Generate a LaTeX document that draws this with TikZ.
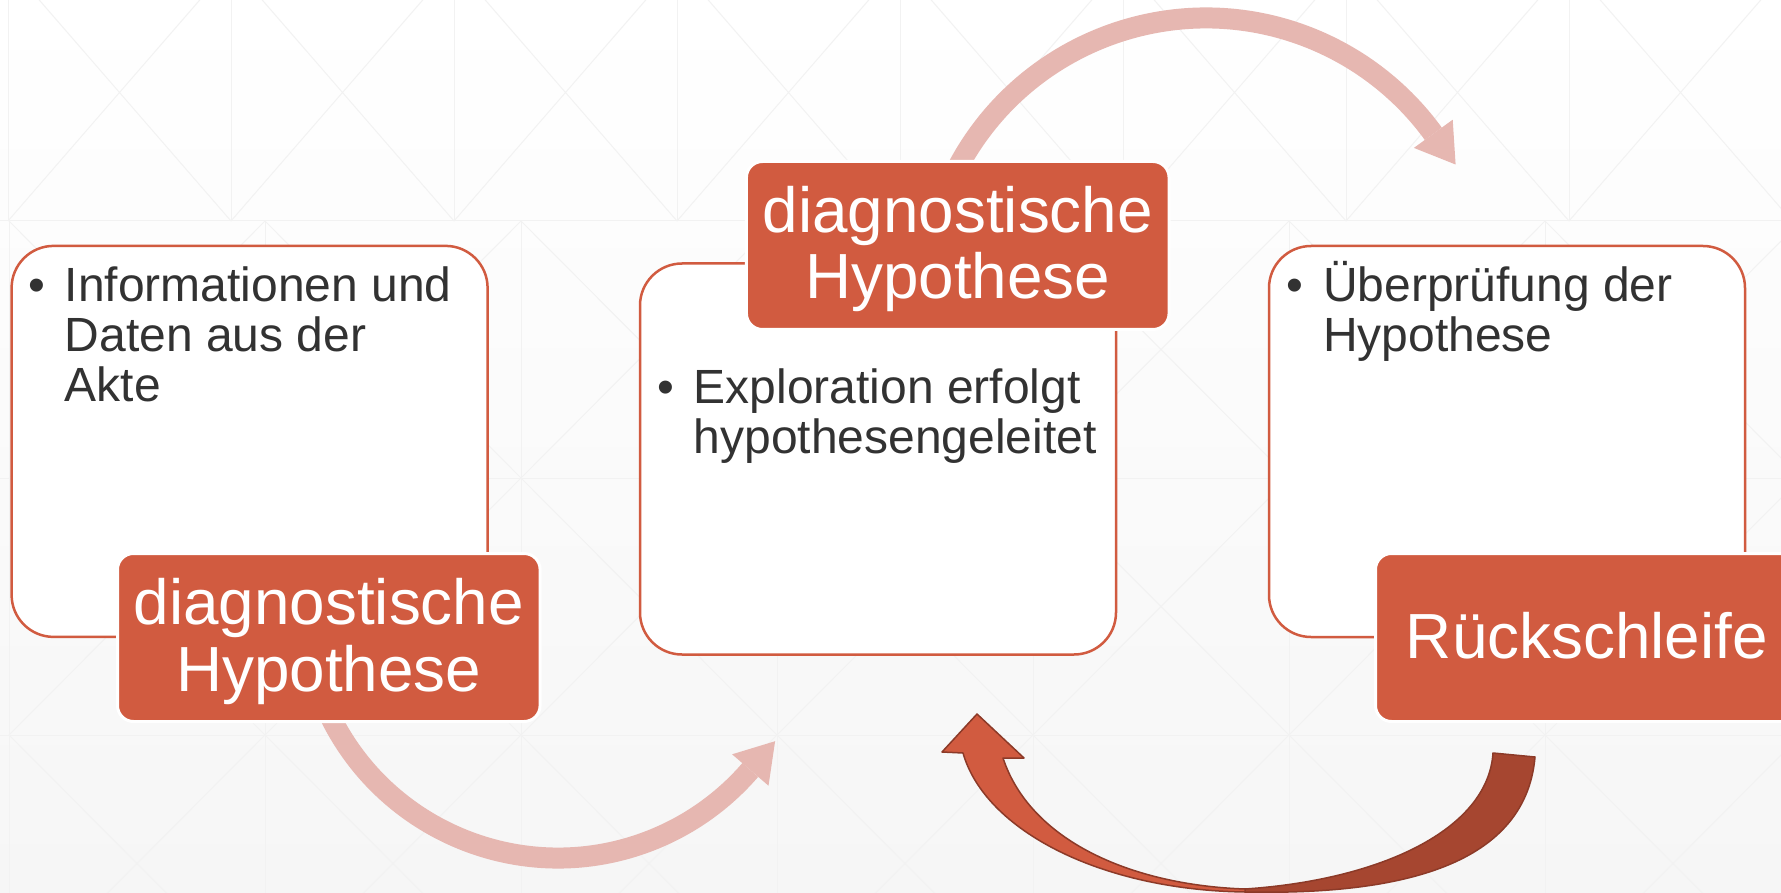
\documentclass[tikz,border=0pt]{standalone}
\usepackage{fontspec}
\setmainfont{Liberation Sans}
\usetikzlibrary{calc}
\definecolor{orng}{RGB}{209,91,64}
\definecolor{pinkarr}{RGB}{230,183,177}
\definecolor{darkarr}{RGB}{166,70,48}
\definecolor{arrline}{RGB}{140,58,40}
\definecolor{txt}{RGB}{50,50,50}
\definecolor{gridc}{RGB}{242,242,242}
\definecolor{bgbot}{RGB}{246,246,246}
\begin{document}
\begin{tikzpicture}[x=1pt,y=-1pt,
  whitebox/.style={draw=orng, line width=2.5pt, fill=white, rounded corners=42pt, minimum width=476pt, minimum height=391pt, inner sep=0pt},
  orangebox/.style={draw=white, line width=3pt, fill=orng, rounded corners=16pt, minimum width=422.6pt, minimum height=168pt, inner sep=0pt},
  bodytext/.style={anchor=base west, inner sep=0pt, text=txt, font=\fontsize{48}{50}\selectfont},
  headtext/.style={anchor=base, inner sep=0pt, text=white, font=\fontsize{63.8}{66}\selectfont},
  pinkband/.style={draw=pinkarr, line width=21pt},
  pinkhead/.style={fill=pinkarr},
  gridline/.style={draw=gridc, line width=1pt},
  ribbonback/.style={fill=darkarr, draw=arrline, line width=1.5pt, line join=round},
  ribbonfront/.style={fill=orng, draw=arrline, line width=1.5pt, line join=round}]
\useasboundingbox (0,0) rectangle (1781,893);
\clip (0,0) rectangle (1781,893);
% background
\shade[top color=white, bottom color=bgbot] (0,0) rectangle (1781,893);
\foreach \i in {0,...,8} {
  \draw[gridline] ({8+223*\i},-36) -- ({8+223*\i},221);
  \draw[gridline] ({8+223*\i},-36) -- ({8+223*(\i+1)},221);
  \draw[gridline] ({8+223*(\i+1)},-36) -- ({8+223*\i},221);
}
\foreach \j in {0,1,2} {
  \foreach \i in {0,...,7} {
    \draw[gridline] ({9+256*\i},{221+257*\j}) -- ({9+256*\i},{478+257*\j});
    \draw[gridline] ({9+256*\i},{221+257*\j}) -- ({9+256*(\i+1)},{478+257*\j});
    \draw[gridline] ({9+256*(\i+1)},{221+257*\j}) -- ({9+256*\i},{478+257*\j});
  }
}
\foreach \y in {221,478,735} { \draw[gridline] (0,\y) -- (1781,\y); }
% pink arrow, bottom left
\coordinate (c1) at (558,604);
\draw[pinkband] ([shift={(156:254)}]c1) arc[start angle=156, end angle=40.8, radius=254];
\coordinate (h1a) at (768.5,785.7);
\coordinate (h1t) at (775.1,741.2);
\coordinate (h1b) at (732.1,754.3);
\fill[pinkhead] (h1a) -- (h1t) -- (h1b) -- cycle;
% pink arrow, top
\coordinate (c2) at (1206,299);
\draw[pinkband] ([shift={(-155:281)}]c2) arc[start angle=-155, end angle=-36, radius=281];
\coordinate (h2a) at (1452.7,119.7);
\coordinate (h2t) at (1455.6,164.5);
\coordinate (h2b) at (1413.9,147.9);
\fill[pinkhead] (h2a) -- (h2t) -- (h2b) -- cycle;
% return arrow, bottom right
\coordinate (r1) at (1535,757);
\coordinate (r2) at (1493,753);
\coordinate (rb) at (1245,892);
\coordinate (rb2) at (1245,889);
\fill[ribbonback] (r1) .. controls (1525,870) and (1390,895) .. (rb) -- (rb2) .. controls (1380,880) and (1488,830) .. (r2) -- cycle;
\coordinate (n1) at (963,753);
\coordinate (w1) at (942,752);
\coordinate (tp) at (977,714);
\coordinate (w2) at (1024,758);
\coordinate (n2) at (1003,758);
\fill[ribbonfront] (rb) .. controls (1100,890) and (985,830) .. (n1) -- (w1) -- (tp) -- (w2) -- (n2) .. controls (1030,840) and (1130,885) .. (rb2) -- cycle;
% boxes
\node[whitebox] (wl) at (249.6,441.4) {};
\node[whitebox] (wm) at (878,459) {};
\node[whitebox] (wr) at (1507,441.5) {};
\node[orangebox] (ol) at (328.8,637.5) {};
\node[orangebox] (om) at (957.75,245.5) {};
\node[orangebox] (orr) at (1586.8,637.5) {};
% body texts
\node[bodytext] (bl) at (28,302) {•};
\node[bodytext] (tl1) at (64.5,302) {Informationen und};
\node[bodytext] (tl2) at (64.5,352) {Daten aus der};
\node[bodytext] (tl3) at (64.5,401) {Akte};
\node[bodytext] (bm) at (657,403) {•};
\node[bodytext] (tm1) at (693.5,403) {Exploration erfolgt};
\node[bodytext] (tm2) at (693.5,453) {hypothesengeleitet};
\node[bodytext] (br) at (1286,302) {•};
\node[bodytext] (tr1) at (1323,302) {Überprüfung der};
\node[bodytext] (tr2) at (1323,352) {Hypothese};
% head texts
\node[headtext] (hl1) at (328.8,624.5) {diagnostische};
\node[headtext] (hl2) at (328.8,691) {Hypothese};
\node[headtext] (hm1) at (957.75,232.5) {diagnostische};
\node[headtext] (hm2) at (957.75,299) {Hypothese};
\node[headtext] (hr1) at (1586.8,658) {Rückschleife};
\end{tikzpicture}
\end{document}
